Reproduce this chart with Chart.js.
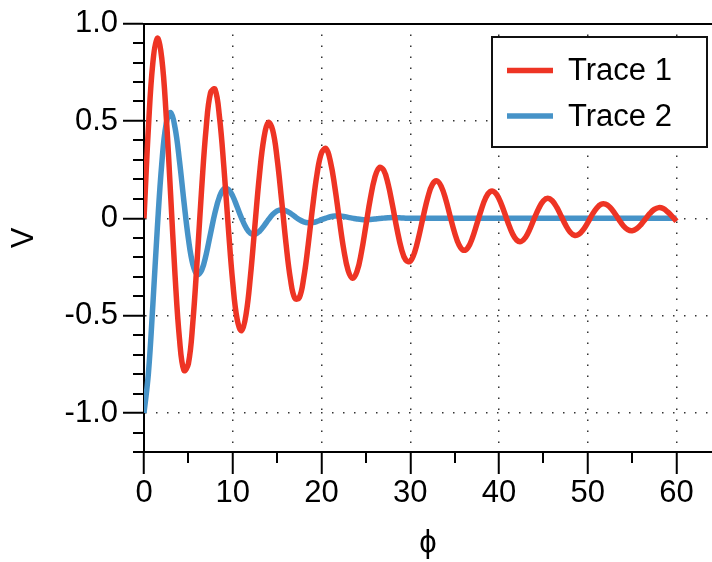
<!DOCTYPE html>
<html>
<head>
<meta charset="utf-8">
<style>
  html, body { margin: 0; padding: 0; background: #ffffff; }
  #wrap { width: 712px; height: 562px; }
</style>
<script src="https://cdn.jsdelivr.net/npm/chart.js@4/dist/chart.umd.min.js"></script>
</head>
<body>
<div id="wrap"><canvas id="c" width="712" height="562"></canvas></div>
<script>
// ---- data ----
const phi = [
  0, 0.5, 1, 1.5, 2, 2.5, 3, 3.5, 4, 4.5,
  5, 5.5, 6, 6.5, 7, 7.5, 8, 8.5, 9, 9.5,
  10, 10.5, 11, 11.5, 12, 12.5, 13, 13.5, 14, 14.5,
  15, 15.5, 16, 16.5, 17, 17.5, 18, 18.5, 19, 19.5,
  20, 20.5, 21, 21.5, 22, 22.5, 23, 23.5, 24, 24.5,
  25, 25.5, 26, 26.5, 27, 27.5, 28, 28.5, 29, 29.5,
  30, 30.5, 31, 31.5, 32, 32.5, 33, 33.5, 34, 34.5,
  35, 35.5, 36, 36.5, 37, 37.5, 38, 38.5, 39, 39.5,
  40, 40.5, 41, 41.5, 42, 42.5, 43, 43.5, 44, 44.5,
  45, 45.5, 46, 46.5, 47, 47.5, 48, 48.5, 49, 49.5,
  50, 50.5, 51, 51.5, 52, 52.5, 53, 53.5, 54, 54.5,
  55, 55.5, 56, 56.5, 57, 57.5, 58, 58.5, 59, 59.5,
  60
];

const trace1 = [
  0, 0.468, 0.800, 0.925, 0.823, 0.528, 0.121, -0.294, -0.620, -0.781,
  -0.747, -0.536, -0.207, 0.155, 0.463, 0.645, 0.663, 0.522, 0.263, -0.047,
  -0.330, -0.520, -0.577, -0.493, -0.294, -0.035, 0.219, 0.409, 0.492, 0.453,
  0.307, 0.095, -0.129, -0.312, -0.411, -0.407, -0.305, -0.136, 0.058, 0.228,
  0.336, 0.358, 0.293, 0.161, -0.003, -0.158, -0.268, -0.308, -0.273, -0.174,
  -0.038, 0.100, 0.208, 0.260, 0.248, 0.177, 0.067, -0.054, -0.156, -0.215,
  -0.220, -0.173, -0.086, 0.017, 0.111, 0.174, 0.192, 0.163, 0.097, 0.010,
  -0.074, -0.137, -0.164, -0.150, -0.101, -0.030, 0.044, 0.105, 0.137, 0.135,
  0.101, 0.044, -0.020, -0.077, -0.112, -0.119, -0.097, -0.053, 0.002, 0.053,
  0.090, 0.103, 0.090, 0.057, 0.012, -0.034, -0.070, -0.087, -0.082, -0.058,
  -0.022, 0.019, 0.052, 0.072, 0.073, 0.057, 0.028, -0.006, -0.038, -0.058,
  -0.064, -0.054, -0.032, -0.003, 0.025, 0.046, 0.055, 0.050, 0.033, 0.010,
  -0.015
];

const trace2 = [
  -1.000, -0.794, -0.442, -0.052, 0.279, 0.486, 0.543, 0.465, 0.294, 0.086,
  -0.104, -0.236, -0.289, -0.266, -0.186, -0.077, 0.029, 0.110, 0.151, 0.149,
  0.114, 0.058, 0.000, -0.048, -0.077, -0.082, -0.067, -0.040, -0.008, 0.020,
  0.038, 0.044, 0.039, 0.026, 0.009, -0.007, -0.018, -0.023, -0.022, -0.016,
  -0.007, 0.001, 0.008, 0.012, 0.012, 0.010, 0.005, 0.001, -0.003, -0.006,
  -0.007, -0.006, -0.004, -0.001, 0.001, 0.003, 0.004, 0.003, 0.002, 0.001,
  0, 0, 0, 0, 0, 0, 0, 0, 0, 0,
  0, 0, 0, 0, 0, 0, 0, 0, 0, 0,
  0, 0, 0, 0, 0, 0, 0, 0, 0, 0,
  0, 0, 0, 0, 0, 0, 0, 0, 0, 0,
  0, 0, 0, 0, 0, 0, 0, 0, 0, 0,
  0, 0, 0, 0, 0, 0, 0, 0, 0, 0,
  0
];

const seriesNames = ['Trace 1', 'Trace 2'];

const xTicks = [0, 10, 20, 30, 40, 50, 60];
const xTickLabels = ['0', '10', '20', '30', '40', '50', '60'];
const xMinorTicks = [5, 15, 25, 35, 45, 55];

const yTicks = [-1, -0.5, 0, 0.5, 1];
const yTickLabels = ['-1.0', '-0.5', '0', '0.5', '1.0'];
const yMinorTicks = [-1.2, -1.1, -0.9, -0.8, -0.7, -0.6, -0.4, -0.3, -0.2, -0.1,
                     0.1, 0.2, 0.3, 0.4, 0.6, 0.7, 0.8, 0.9];

// ---- styling ----
const RED = '#ee3424';
const BLUE = '#4693c8';
const FONT = "'Liberation Sans', Arial, Helvetica, 'DejaVu Sans', sans-serif";
const FS = 31;

const toPoints = (ys) => phi.map((x, i) => ({ x: x, y: ys[i] }));

const extrasPlugin = {
  id: 'extras',
  afterDraw(chart) {
    const ctx = chart.ctx;
    const xs = chart.scales.x, ys = chart.scales.y;
    const area = chart.chartArea;
    ctx.save();
    ctx.strokeStyle = '#000';
    ctx.lineWidth = 2;
    // top frame line
    ctx.beginPath();
    ctx.moveTo(area.left, Math.round(ys.getPixelForValue(1)));
    ctx.lineTo(area.right, Math.round(ys.getPixelForValue(1)));
    ctx.stroke();
    // minor ticks
    ctx.beginPath();
    yMinorTicks.forEach(v => {
      const p = Math.round(ys.getPixelForValue(v));
      ctx.moveTo(area.left - 11, p);
      ctx.lineTo(area.left, p);
    });
    xMinorTicks.forEach(v => {
      const p = Math.round(xs.getPixelForValue(v));
      ctx.moveTo(p, area.bottom);
      ctx.lineTo(p, area.bottom + 11);
    });
    ctx.stroke();

    // boxed legend
    const bx = 492, by = 37, bw = 215, bh = 110;
    ctx.fillStyle = '#fff';
    ctx.fillRect(bx, by, bw, bh);
    ctx.lineWidth = 2;
    ctx.strokeStyle = '#111';
    ctx.strokeRect(bx, by, bw, bh);
    chart.data.datasets.forEach((ds, i) => {
      const yy = 70.5 + i * 45.5;
      ctx.strokeStyle = ds.borderColor;
      ctx.lineWidth = 5.5;
      ctx.beginPath();
      ctx.moveTo(507, yy);
      ctx.lineTo(553, yy);
      ctx.stroke();
      ctx.fillStyle = '#000';
      ctx.font = FS + 'px ' + FONT;
      ctx.textAlign = 'left';
      ctx.textBaseline = 'middle';
      ctx.fillText(ds.label, 568, yy + 1);
    });
    ctx.restore();
  }
};

Chart.defaults.font.family = FONT;
Chart.defaults.color = '#000';

new Chart(document.getElementById('c'), {
  type: 'line',
  data: {
    datasets: [
      { label: seriesNames[0], data: toPoints(trace1), borderColor: RED, backgroundColor: RED,
        borderWidth: 5.5, pointRadius: 0, tension: 0.4, fill: false },
      { label: seriesNames[1], data: toPoints(trace2), borderColor: BLUE, backgroundColor: BLUE,
        borderWidth: 5.5, pointRadius: 0, tension: 0.4, fill: false }
    ]
  },
  options: {
    responsive: false,
    animation: false,
    devicePixelRatio: 1,
    layout: { padding: { top: 21, left: 0, right: 0, bottom: 0 } },
    plugins: { legend: { display: false }, tooltip: { enabled: false } },
    scales: {
      x: {
        type: 'linear',
        min: 0, max: 64,
        afterBuildTicks: (s) => { s.ticks = xTicks.map(v => ({ value: v })); },
        afterFit: (s) => { s.height = 110; },
        ticks: {
          autoSkip: false, maxRotation: 0, padding: 1,
          font: { size: FS, lineHeight: 1.2 },
          color: '#000',
          callback: (v, i) => xTickLabels[i]
        },
        grid: {
          color: (c) => (c.tick && c.tick.value === 0) ? 'rgba(0,0,0,0)' : '#333',
          lineWidth: 1.5,
          tickLength: 22, tickColor: '#000', tickWidth: 2
        },
        border: { display: true, color: '#000', width: 2, dash: [1.5, 9.5] },
        title: { display: true, text: 'ϕ', font: { size: FS, lineHeight: 1.2 }, color: '#000',
                 padding: { top: 0, bottom: 0 } }
      },
      y: {
        type: 'linear',
        min: -1.2, max: 1.0,
        afterBuildTicks: (s) => { s.ticks = yTicks.map(v => ({ value: v })); },
        afterFit: (s) => { s.width = 144; },
        ticks: {
          autoSkip: false, padding: 5,
          font: { size: FS, lineHeight: 1.2 },
          color: '#000',
          callback: (v, i) => yTickLabels[i]
        },
        grid: {
          color: (c) => (c.tick && c.tick.value === 1) ? 'rgba(0,0,0,0)' : '#333',
          lineWidth: 1.5,
          tickLength: 21, tickColor: '#000', tickWidth: 2
        },
        border: { display: true, color: '#000', width: 2, dash: [1.5, 9.5] },
        title: { display: true, text: 'V', font: { size: FS, lineHeight: 1.2 }, color: '#000',
                 padding: { top: 6, bottom: 0 } }
      }
    }
  },
  plugins: [extrasPlugin]
});
</script>
</body>
</html>
